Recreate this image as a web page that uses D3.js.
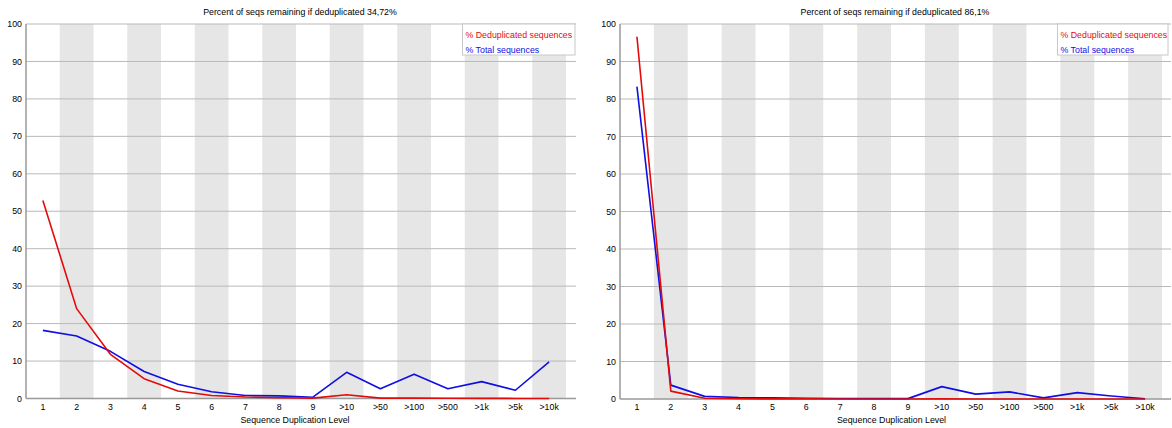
<!DOCTYPE html>
<html>
<head>
<meta charset="utf-8">
<script src="https://cdn.jsdelivr.net/npm/d3@7"></script>
<style>
  html, body { margin: 0; padding: 0; background: #fff; }
  svg { display: block; }
  text { font-family: "Liberation Sans", Arial, sans-serif; fill: #000; }
</style>
</head>
<body>
<svg id="chart" width="1172" height="428"></svg>
<script>
// Duplication level categories shared by both panels
const levels = ["1", "2", "3", "4", "5", "6", "7", "8", "9", ">10", ">50", ">100", ">500", ">1k", ">5k", ">10k"];
const yTicks = [0, 10, 20, 30, 40, 50, 60, 70, 80, 90, 100];

// Sample A: 34,72% remaining after deduplication
const titleA = "Percent of seqs remaining if deduplicated 34,72%";
const dedupA = [52.9, 24.0, 11.8, 5.3, 2.0, 0.8, 0.4, 0.2, 0.1, 1.0, 0.1, 0.1, 0.05, 0.03, 0.02, 0.02];
const totalA = [18.2, 16.7, 12.6, 7.2, 3.8, 1.8, 0.8, 0.7, 0.35, 7.0, 2.6, 6.5, 2.6, 4.5, 2.2, 9.8];

// Sample B: 86,1% remaining after deduplication
const titleB = "Percent of seqs remaining if deduplicated 86,1%";
const dedupB = [96.6, 2.1, 0.2, 0.05, 0.04, 0.03, 0.02, 0.02, 0.01, 0.03, 0.01, 0.01, 0.01, 0.01, 0.01, 0.01];
const totalB = [83.3, 3.7, 0.7, 0.4, 0.3, 0.2, 0.15, 0.1, 0.1, 3.3, 1.3, 1.9, 0.3, 1.7, 0.8, 0.05];

const legendLabels = ["% Deduplicated sequences", "% Total sequences"];
const xLabel = "Sequence Duplication Level";

const RED = "rgb(228,10,10)";
const BLUE = "rgb(15,15,228)";
const FONT = "8.8px";

const svg = d3.select("#chart");

function panel(cfg) {
  const g = svg.append("g");
  const x = d3.scaleBand().domain(levels).range([cfg.left, cfg.bandEnd]);
  const y = d3.scaleLinear().domain([0, 100]).range([cfg.bottom, cfg.top]);

  // alternating grey bands
  g.selectAll("rect.band")
    .data(levels.filter((d, i) => i % 2 === 1))
    .join("rect")
    .attr("class", "band")
    .attr("x", d => x(d))
    .attr("y", cfg.top)
    .attr("width", x.bandwidth())
    .attr("height", cfg.bottom - cfg.top)
    .attr("fill", "rgb(230,230,230)");

  // horizontal gridlines
  g.selectAll("line.grid")
    .data(yTicks.filter(t => t > 0))
    .join("line")
    .attr("class", "grid")
    .attr("x1", cfg.left)
    .attr("x2", cfg.gridEnd)
    .attr("y1", d => y(d))
    .attr("y2", d => y(d))
    .attr("stroke", "rgb(185,185,185)")
    .attr("stroke-width", 1);

  // y axis tick labels
  g.selectAll("text.ytick")
    .data(yTicks)
    .join("text")
    .attr("class", "ytick")
    .attr("x", cfg.left - 4)
    .attr("y", d => y(d))
    .attr("dy", "0.35em")
    .attr("text-anchor", "end")
    .style("font-size", FONT)
    .text(d => d);

  // x axis tick labels
  g.selectAll("text.xtick")
    .data(levels)
    .join("text")
    .attr("class", "xtick")
    .attr("x", d => x(d) + x.bandwidth() / 2)
    .attr("y", cfg.bottom + 11)
    .attr("text-anchor", "middle")
    .style("font-size", FONT)
    .text(d => d);

  // axes
  g.append("line")
    .attr("x1", cfg.left).attr("x2", cfg.left)
    .attr("y1", cfg.top).attr("y2", cfg.bottom)
    .attr("stroke", "#999").attr("stroke-width", 1.5);
  g.append("line")
    .attr("x1", cfg.left).attr("x2", cfg.gridEnd)
    .attr("y1", cfg.bottom).attr("y2", cfg.bottom)
    .attr("stroke", "#999").attr("stroke-width", 1.5);

  // title and axis label
  g.append("text")
    .attr("x", cfg.titleX)
    .attr("y", 15)
    .attr("text-anchor", "middle")
    .style("font-size", FONT)
    .text(cfg.title);
  g.append("text")
    .attr("x", cfg.xLabelX)
    .attr("y", 423)
    .attr("text-anchor", "middle")
    .style("font-size", FONT)
    .text(xLabel);

  // series lines
  const line = d3.line()
    .x((d, i) => x(levels[i]) + x.bandwidth() / 2)
    .y(d => y(d));
  [[cfg.total, BLUE], [cfg.dedup, RED]].forEach(([vals, col]) => {
    g.append("path")
      .datum(vals)
      .attr("d", line)
      .attr("fill", "none")
      .attr("stroke", col)
      .attr("stroke-width", 1.6)
      .attr("stroke-linejoin", "round");
  });

  // legend
  const lg = g.append("g");
  lg.append("rect")
    .attr("x", cfg.legendX)
    .attr("y", cfg.top)
    .attr("width", cfg.legendW)
    .attr("height", 31)
    .attr("fill", "#fff")
    .attr("stroke", "rgb(200,200,200)")
    .attr("stroke-width", 1);
  lg.selectAll("text")
    .data(legendLabels)
    .join("text")
    .attr("x", cfg.legendX + 3)
    .attr("y", (d, i) => cfg.top + 14 + i * 15)
    .style("font-size", FONT)
    .style("fill", (d, i) => i === 0 ? RED : BLUE)
    .text(d => d);
}

panel({
  left: 26, bandEnd: 566, gridEnd: 576, top: 24, bottom: 398.5,
  titleX: 300, xLabelX: 295, legendX: 462.5, legendW: 112.5,
  title: titleA, dedup: dedupA, total: totalA
});

panel({
  left: 620, bandEnd: 1162, gridEnd: 1171, top: 24, bottom: 399,
  titleX: 895, xLabelX: 891.5, legendX: 1057.5, legendW: 110.5,
  title: titleB, dedup: dedupB, total: totalB
});
</script>
</body>
</html>
